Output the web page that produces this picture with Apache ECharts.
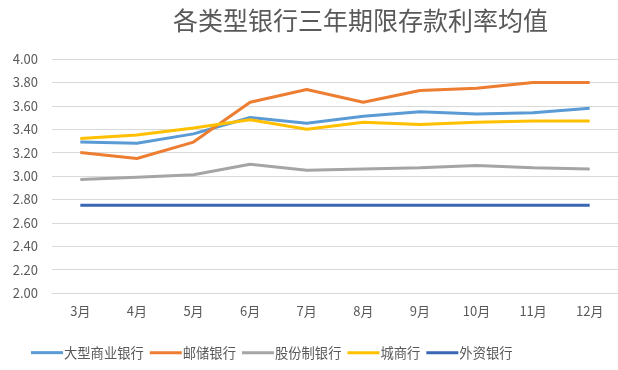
<!DOCTYPE html>
<html><head><meta charset="utf-8">
<script src="https://cdn.jsdelivr.net/npm/echarts@6/dist/echarts.min.js"></script>
<style>html,body{margin:0;padding:0;background:#fff}#c{width:618px;height:370px}</style>
</head><body><div id="c"></div>
<script>
const categories = ['3月','4月','5月','6月','7月','8月','9月','10月','11月','12月'];
const seriesNames = ['大型商业银行','邮储银行','股份制银行','城商行','外资银行'];
const bigBanks = [3.29,3.28,3.36,3.50,3.45,3.51,3.55,3.53,3.54,3.58];
const postalBank = [3.20,3.15,3.29,3.63,3.74,3.63,3.73,3.75,3.80,3.80];
const jointStock = [2.97,2.99,3.01,3.10,3.05,3.06,3.07,3.09,3.07,3.06];
const cityBanks = [3.32,3.35,3.41,3.48,3.40,3.46,3.44,3.46,3.47,3.47];
const foreignBanks = [2.75,2.75,2.75,2.75,2.75,2.75,2.75,2.75,2.75,2.75];
const colors = ['#5B9BD5','#ED7D31','#A5A5A5','#FFC000','#3A67B4'];
const dataList = [bigBanks, postalBank, jointStock, cityBanks, foreignBanks];
const font = '"Noto Sans CJK SC", sans-serif';
const chart = echarts.init(document.getElementById('c'));
chart.setOption({
  animation: false,
  color: colors,
  title: {
    text: '各类型银行三年期限存款利率均值',
    left: 168, top: 3,
    textStyle: {fontFamily: font, fontSize: 25, fontWeight: 'normal', color: '#595959'}
  },
  legend: {
    left: 26, top: 341,
    itemWidth: 32, itemHeight: 3, itemGap: 6,
    icon: 'rect',
    textStyle: {fontFamily: font, fontSize: 13.3, color: '#595959', padding: [0,0,0,-4]},
    data: seriesNames
  },
  grid: {left: 52, right: 0, top: 59, bottom: 77},
  xAxis: {
    type: 'category', data: categories, boundaryGap: true,
    axisLine: {show: true, lineStyle: {color: '#d9d9d9'}},
    axisTick: {show: false},
    axisLabel: {fontFamily: font, fontSize: 13, color: '#595959', margin: 12}
  },
  yAxis: {
    type: 'value', min: 2, max: 4, interval: 0.2,
    axisLine: {show: false}, axisTick: {show: false},
    splitLine: {lineStyle: {color: '#d9d9d9'}},
    axisLabel: {fontFamily: font, fontSize: 13, color: '#595959', margin: 14,
      formatter: v => v.toFixed(2)}
  },
  series: seriesNames.map((n, i) => ({
    name: n, type: 'line', data: dataList[i], symbol: 'none',
    lineStyle: {width: 3, color: colors[i]}, itemStyle: {color: colors[i]}
  }))
});
</script></body></html>
